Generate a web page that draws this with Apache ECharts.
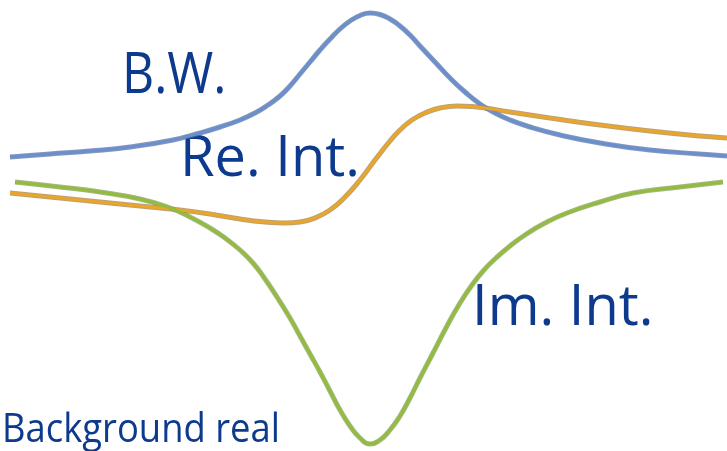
<!DOCTYPE html>
<html><head><meta charset="utf-8">
<script src="https://cdn.jsdelivr.net/npm/echarts@6/dist/echarts.min.js"></script>
<style>html,body{margin:0;padding:0;background:#fff}#c{width:727px;height:451px}</style>
</head><body><div id="c"></div>
<script>
// Curves (x, y in picture units, y downward)
const bwCurve = [[10,157],[50,154],[90,151],[130,147],[173,140],[200,133],[220,127],[240,120],[255,113],[268,105],[280,96],[290,86],[300,74],[310,62],[320,50],[330,39],[340,29],[350,21],[360,15.5],[370,13],[380,14.5],[390,19],[400,26],[410,35],[420,46],[435,62],[450,78],[465,92],[480,104],[495,113],[510,120],[530,127],[560,135],[600,143],[650,150],[700,154],[727,156]];
const reIntCurve = [[10,193],[50,197],[100,202],[150,207],[180,210],[210,214],[240,219],[265,222],[285,223],[300,222],[315,218],[330,210],[345,197],[360,180],[375,160],[390,141],[400,130],[412,120],[425,113],[440,108],[457,106],[472,106.5],[485,108],[510,112],[550,118],[600,125],[650,131],[700,136],[727,138]];
const imIntCurve = [[15,182],[60,187],[100,192],[140,199],[170,208],[190,217],[210,228],[225,238],[240,250],[253,263],[265,279],[277,297],[290,318],[300,336],[310,354],[320,372],[330,391],[340,410],[350,426],[360,438],[370,444],[380,440],[390,430],[400,416],[410,398],[420,378],[433,353],[447,326],[460,303],[472,285],[484,270],[496,258],[510,246],[525,235],[545,223],[567,213],[600,202],[633,193],[680,187],[723,182]];
const labels = ["B.W.","Re. Int.","Im. Int.","Background real"];

const chart = echarts.init(document.getElementById('c'));
const textColor = '#0d3a8c';
function mkLine(name, data, color, edge){
  const common = {type:'line', data, smooth:0.5, symbol:'none', silent:true};
  return [
    Object.assign({name:name+'_edge', z:2, lineStyle:{width:5, color:edge, opacity:0.7}}, common),
    Object.assign({name, z:3, lineStyle:{width:3, color}}, common)
  ];
}
chart.setOption({
  animation:false,
  grid:{left:0,right:0,top:0,bottom:0},
  xAxis:{type:'value',min:0,max:727,show:false},
  yAxis:{type:'value',min:0,max:451,inverse:true,show:false},
  series:[
    ...mkLine('BW', bwCurve, '#6b8fcc', '#4f6c9e'),
    ...mkLine('ReInt', reIntCurve, '#eba52a', '#9c7a3a'),
    ...mkLine('ImInt', imIntCurve, '#92bb40', '#7f9a4a')
  ],
  graphic:[
    {type:'text', left:122, top:49, scaleX:0.89, style:{text:labels[0], font:'56px "Open Sans"', fill:textColor}},
    {type:'text', left:180, top:132, style:{text:labels[1], font:'56px "Open Sans"', fill:textColor}},
    {type:'text', left:472, top:281, style:{text:labels[2], font:'56px "Open Sans"', fill:textColor}},
    {type:'text', left:2, top:411, scaleX:0.91, style:{text:labels[3], font:'40px "Open Sans"', fill:textColor}}
  ]
});
</script></body></html>
